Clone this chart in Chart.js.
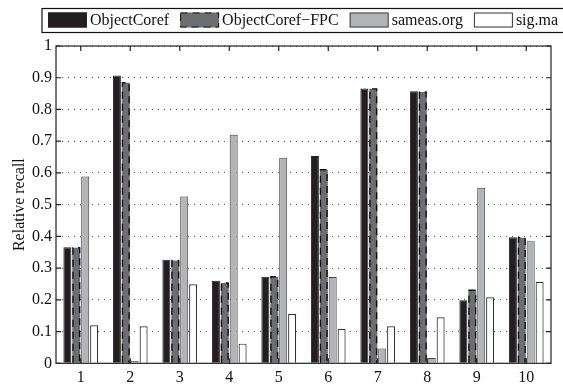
<!DOCTYPE html>
<html>
<head>
<meta charset="utf-8">
<script src="https://cdn.jsdelivr.net/npm/chart.js@4"></script>
<style>
  body { margin: 0; background: #fff; }
  #wrap { width: 563px; height: 385px; position: relative; }
</style>
</head>
<body>
<div id="wrap"><canvas id="chart-recall"></canvas></div>
<script>
// data
const categories = ['1', '2', '3', '4', '5', '6', '7', '8', '9', '10'];
const objectCoref = [0.366, 0.907, 0.326, 0.260, 0.273, 0.653, 0.866, 0.857, 0.199, 0.397];
const objectCorefFPC = [0.364, 0.884, 0.324, 0.253, 0.273, 0.610, 0.865, 0.855, 0.230, 0.396];
const sameasOrg = [0.589, 0.008, 0.526, 0.720, 0.648, 0.272, 0.047, 0.017, 0.553, 0.385];
const sigMa = [0.120, 0.117, 0.249, 0.062, 0.156, 0.109, 0.117, 0.145, 0.208, 0.257];
const yTickLabels = ['0', '0.1', '0.2', '0.3', '0.4', '0.5', '0.6', '0.7', '0.8', '0.9', '1'];

const serif = '"Liberation Serif", "Times New Roman", serif';

// dashed outline for the FPC bars + legend + boxed axes with inward ticks
const matlabLook = {
    id: 'matlabLook',
    afterDatasetsDraw(chart) {
        const ctx = chart.ctx;
        const meta = chart.getDatasetMeta(1);
        ctx.save();
        ctx.strokeStyle = '#111';
        ctx.lineWidth = 1.4;
        ctx.setLineDash([7, 5]);
        meta.data.forEach(function (bar) {
            const l = bar.x - bar.width / 2 + 0.7;
            const r = bar.x + bar.width / 2 - 0.7;
            ctx.beginPath();
            ctx.moveTo(l, bar.base);
            ctx.lineTo(l, bar.y);
            ctx.lineTo(r, bar.y);
            ctx.lineTo(r, bar.base);
            ctx.stroke();
        });
        ctx.restore();
    },
    afterDraw(chart) {
        const ctx = chart.ctx;
        const a = chart.chartArea;
        const xs = chart.scales.x;
        const ys = chart.scales.y;
        ctx.save();
        ctx.strokeStyle = '#222';
        ctx.lineWidth = 1.2;
        ctx.strokeRect(a.left, a.top, a.right - a.left, a.bottom - a.top);
        ctx.beginPath();
        ys.ticks.forEach(function (t, i) {
            const y = ys.getPixelForTick(i);
            ctx.moveTo(a.left, y); ctx.lineTo(a.left + 5, y);
            ctx.moveTo(a.right, y); ctx.lineTo(a.right - 5, y);
        });
        xs.ticks.forEach(function (t, i) {
            const x = xs.getPixelForTick(i);
            ctx.moveTo(x, a.bottom); ctx.lineTo(x, a.bottom - 5);
            ctx.moveTo(x, a.top); ctx.lineTo(x, a.top + 5);
        });
        ctx.stroke();

        // legend
        ctx.lineWidth = 1.2;
        ctx.strokeStyle = '#111';
        ctx.strokeRect(42, 8.5, 600, 24);
        ctx.font = '16px ' + serif;
        ctx.textBaseline = 'middle';
        ctx.fillStyle = '#111';
        let x = 48;
        chart.data.datasets.forEach(function (ds, i) {
            ctx.fillStyle = ds.backgroundColor;
            ctx.fillRect(x, 12.5, 39, 15);
            ctx.lineWidth = 1;
            ctx.strokeStyle = i == 1 ? '#111' : ds.borderColor;
            if (i == 1) ctx.setLineDash([7, 5]);
            ctx.strokeRect(x + 0.5, 13, 38, 14);
            ctx.setLineDash([]);
            ctx.fillStyle = '#111';
            ctx.fillText(ds.label, x + 42, 21);
            x += 42 + ctx.measureText(ds.label).width + 11;
        });
        ctx.restore();
    }
};

const ctx = document.getElementById('chart-recall').getContext('2d');
const chart = new Chart(ctx, {
    type: 'bar',
    data: {
        labels: categories,
        datasets: [{
            label: 'ObjectCoref',
            data: objectCoref,
            backgroundColor: '#231f20',
            borderColor: '#231f20',
            borderWidth: 1
        }, {
            label: 'ObjectCoref\u2212FPC',
            data: objectCorefFPC,
            backgroundColor: '#6d6e71',
            borderColor: '#6d6e71',
            borderWidth: 0
        }, {
            label: 'sameas.org',
            data: sameasOrg,
            backgroundColor: '#b3b4b7',
            borderColor: '#444',
            borderWidth: 1
        }, {
            label: 'sig.ma',
            data: sigMa,
            backgroundColor: '#ffffff',
            borderColor: '#333',
            borderWidth: 1.2
        }]
    },
    options: {
        responsive: true,
        maintainAspectRatio: false,
        animation: false,
        layout: { padding: { top: 46, right: 12, left: 0, bottom: 0 } },
        datasets: { bar: { categoryPercentage: 0.72, barPercentage: 0.9 } },
        plugins: {
            legend: { display: false },
            tooltip: { enabled: false }
        },
        scales: {
            x: {
                offset: true,
                grid: { display: false, drawTicks: false },
                border: { display: false },
                ticks: { color: '#111', font: { family: serif, size: 16 }, padding: 5, maxRotation: 0 },
                afterFit: function (scale) { scale.height = 21.7; }
            },
            y: {
                min: 0,
                max: 1,
                grid: { color: '#555', lineWidth: 1, drawTicks: false },
                border: { display: false, dash: [1, 5] },
                ticks: {
                    stepSize: 0.1,
                    color: '#111',
                    padding: 4,
                    font: { family: serif, size: 16 },
                    callback: function (v, i) { return yTickLabels[i]; }
                },
                title: {
                    display: true,
                    text: 'Relative recall',
                    color: '#111',
                    font: { family: serif, size: 16 },
                    padding: { top: 10, bottom: 0 }
                },
                afterFit: function (scale) { scale.width = 56; }
            }
        }
    },
    plugins: [matlabLook]
});
</script>
</body>
</html>
